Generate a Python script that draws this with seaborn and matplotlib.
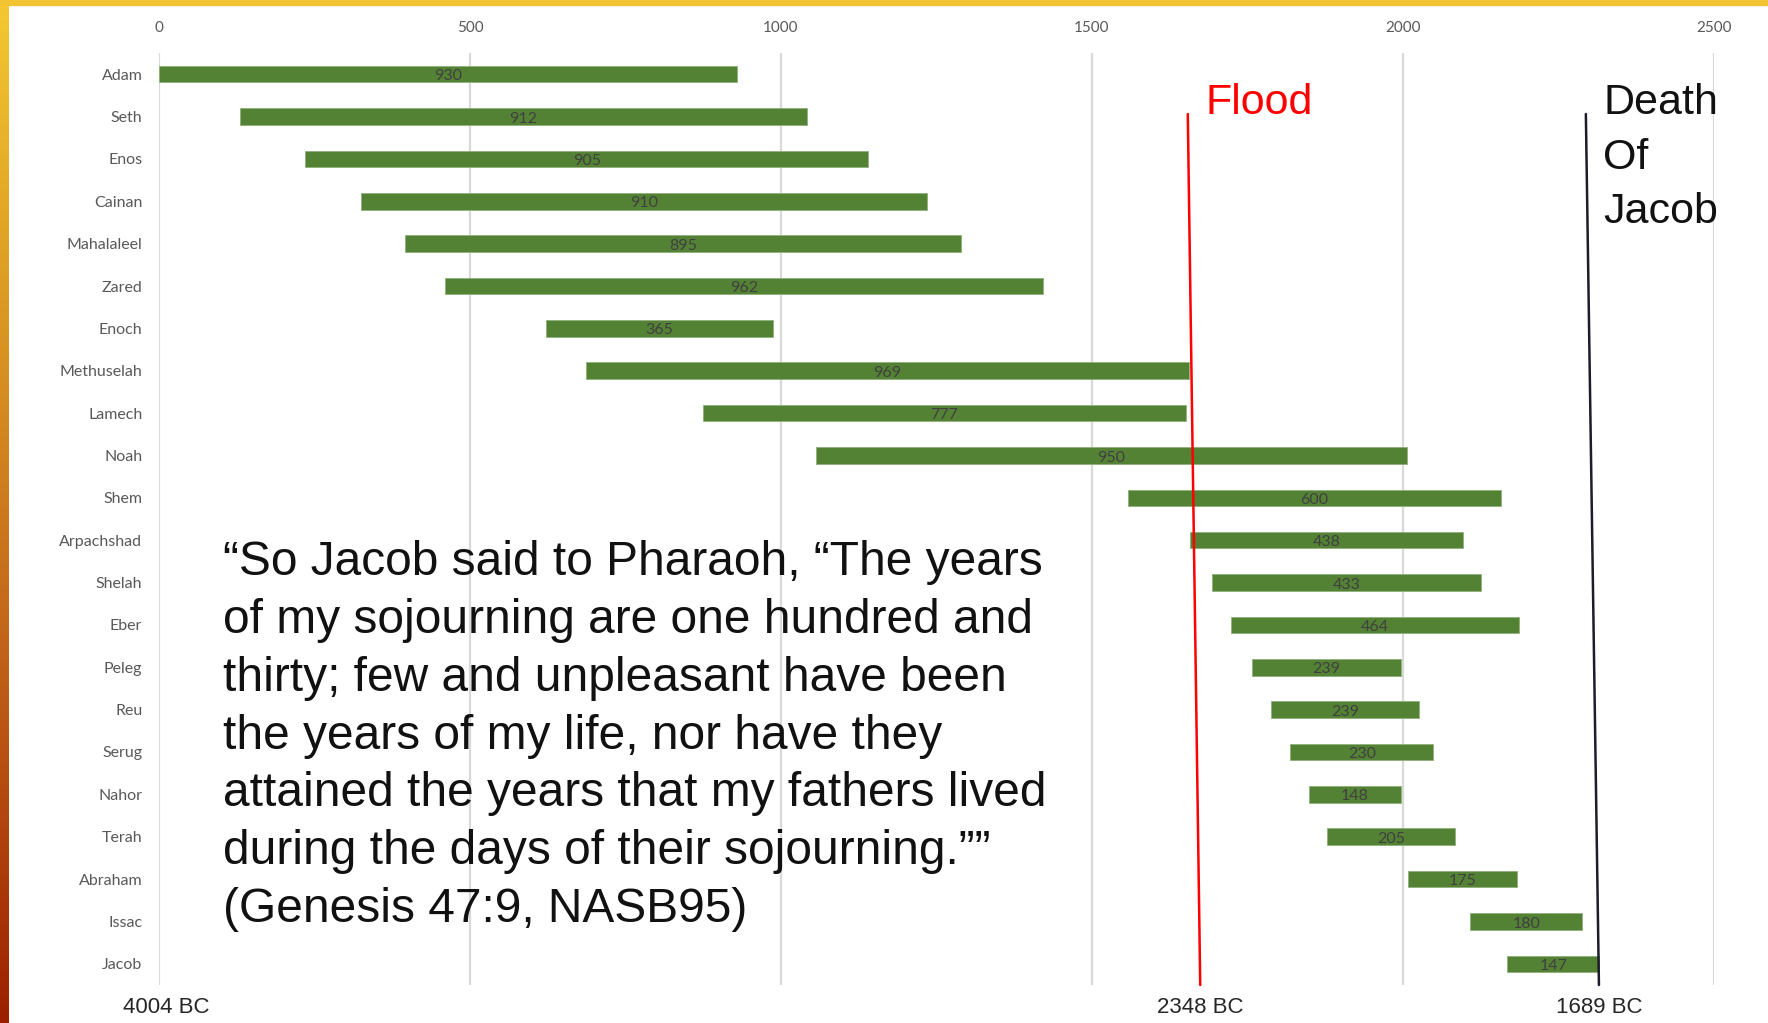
import numpy as np
import pandas as pd
import seaborn as sns
import matplotlib.pyplot as plt
from matplotlib.colors import LinearSegmentedColormap
from matplotlib.patches import Rectangle

# lifespans, years counted from creation (Adam = year 0)
names = ["Adam", "Seth", "Enos", "Cainan", "Mahalaleel", "Zared", "Enoch",
         "Methuselah", "Lamech", "Noah", "Shem", "Arpachshad", "Shelah", "Eber",
         "Peleg", "Reu", "Serug", "Nahor", "Terah", "Abraham", "Issac", "Jacob"]
births = [0, 130, 235, 325, 395, 460, 622, 687, 874, 1056, 1558, 1658, 1693,
          1723, 1757, 1787, 1819, 1849, 1878, 2008, 2108, 2168]
lifespans = [930, 912, 905, 910, 895, 962, 365, 969, 777, 950, 600, 438, 433,
             464, 239, 239, 230, 148, 205, 175, 180, 147]
xticks = [0, 500, 1000, 1500, 2000, 2500]

# marker lines (slightly slanted, as drawn in the original)
flood_x = [1654, 1674]
jacob_x = [2294, 2315]
marker_y = [0.94, 21.5]
bc_labels = ["4004 BC", "2348 BC", "1689 BC"]
bc_x = [12, flood_x[1], jacob_x[1]]

quote = ("\u201cSo Jacob said to Pharaoh, \u201cThe years\n"
         "of my sojourning are one hundred and\n"
         "thirty; few and unpleasant have been\n"
         "the years of my life, nor have they\n"
         "attained the years that my fathers lived\n"
         "during the days of their sojourning.\u201d\u201d\n"
         "(Genesis 47:9, NASB95)")

sns.set_theme(style="white")
plt.rcParams['font.family'] = ['Lato', 'DejaVu Sans']

df = pd.DataFrame({"name": names, "birth": births, "life": lifespans})

fig = plt.figure(figsize=(17.68, 10.23), dpi=100)
ax = fig.add_axes([159/1768, 1-985/1023, (1714-159)/1768, (985-53)/1023])

sns.barplot(data=df, x="life", y="name", order=names, left=df["birth"].values,
            color="#548235", saturation=1, width=0.39, errorbar=None,
            edgecolor="#8fb07a", linewidth=0.6, ax=ax, zorder=3)
labs = ax.bar_label(ax.containers[0], labels=[str(v) for v in lifespans],
                    label_type="center", color="#404040", fontsize=11.5)
for t in labs:
    t.set_position((0, -1.5))  # excel puts them a touch low

ax.set_xlim(0, 2500)
ax.set_ylim(21.5, -0.5)
ax.set_xticks(xticks)
ax.xaxis.tick_top()
ax.tick_params(axis="x", length=0, pad=13, labelsize=11, labelcolor="#595959")
ax.tick_params(axis="y", length=0, pad=12, labelsize=11.5, labelcolor="#595959")
ax.set_xlabel("")
ax.set_ylabel("")
ax.xaxis.grid(True, color="#d9d9d9", lw=1.6, zorder=0)
ax.yaxis.grid(False)
ax.set_axisbelow(True)
for s in ax.spines.values():
    s.set_visible(False)

ax.plot(flood_x, marker_y, color="#ff0000", lw=1.8, zorder=4, clip_on=False)
ax.plot(jacob_x, marker_y, color="#1c1c2c", lw=1.8, zorder=4, clip_on=False)

arial = ['Liberation Sans', 'DejaVu Sans']
ax.text(1683, 0.21, "Flood", color="#ff0000", fontsize=31, family=arial,
        ha="left", va="top")
ax.text(2322, 0.21, "Death\nOf\nJacob", color="#111111", fontsize=31,
        family=arial, ha="left", va="top", linespacing=1.47)
ax.text(103, 11.0, quote, color="#111111", fontsize=34.5, family=arial,
        ha="left", va="top", linespacing=1.365, zorder=5)

for lab, x in zip(bc_labels, bc_x):
    ax.text(x, 22.03, lab, color="#262626", fontsize=16, family=arial,
            ha="center", va="center", clip_on=False)

# slide frame: yellow top band, gradient strip on the left
fig.add_artist(Rectangle((0, 1-5/1023), 1, 5/1023, transform=fig.transFigure,
                         color="#f2c433", zorder=10))
cmap = LinearSegmentedColormap.from_list(
    "frame", ["#f4c832", "#e2a826", "#d48a20", "#c4691a", "#b2460e", "#9c2000"])
bax = fig.add_axes([0, 0, 9/1768, 1])
bax.imshow(np.linspace(0, 1, 256).reshape(-1, 1), aspect="auto", cmap=cmap)
bax.axis("off")

fig.savefig("out.png", dpi=100)
